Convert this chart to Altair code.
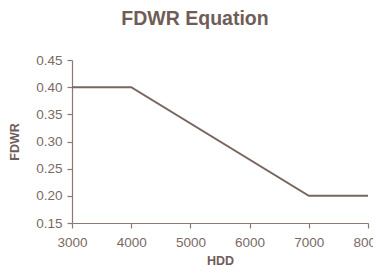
import altair as alt
import pandas as pd

hdd = [3000, 4000, 7000, 8000]
fdwr = [0.40, 0.40, 0.20, 0.20]

df = pd.DataFrame({"HDD": hdd, "FDWR": fdwr})

text_col = "#6f5d58"
label_col = "#7a6964"
line_col = "#7a6660"
axis_col = "#8a7a75"

chart = alt.Chart(df).mark_line(color=line_col, strokeWidth=2).encode(
    x=alt.X("HDD:Q", scale=alt.Scale(domain=[3000, 8000], nice=False, zero=False),
            axis=alt.Axis(values=[3000, 4000, 5000, 6000, 7000, 8000], format="d",
                          title="HDD", grid=False, labelFlush=False)),
    y=alt.Y("FDWR:Q", scale=alt.Scale(domain=[0.15, 0.45], nice=False, zero=False),
            axis=alt.Axis(values=[0.15, 0.20, 0.25, 0.30, 0.35, 0.40, 0.45], format=".2f",
                          title="FDWR", grid=False)),
).properties(
    width=296, height=163,
    title=alt.TitleParams("FDWR Equation", fontSize=19.5, font="Liberation Sans",
                          fontWeight="bold", color=text_col, dx=-25, offset=24),
    autosize=alt.AutoSizeParams(type="none"),
    padding={"left": 64, "top": 52, "right": 5, "bottom": 45},
).configure_view(stroke=None).configure_axis(
    labelFont="Liberation Sans", labelFontSize=13.5, labelColor=label_col,
    titleFont="Liberation Sans", titleFontSize=12.5, titleFontWeight="bold", titleColor=text_col,
    domainColor=axis_col, tickColor=axis_col, tickSize=5, domainWidth=1.2, tickWidth=1.2,
).configure_axisX(labelPadding=7, titlePadding=6).configure_axisY(labelPadding=5, titlePadding=14)

chart.save("out.html", embed_options={"renderer": "svg", "actions": False})
